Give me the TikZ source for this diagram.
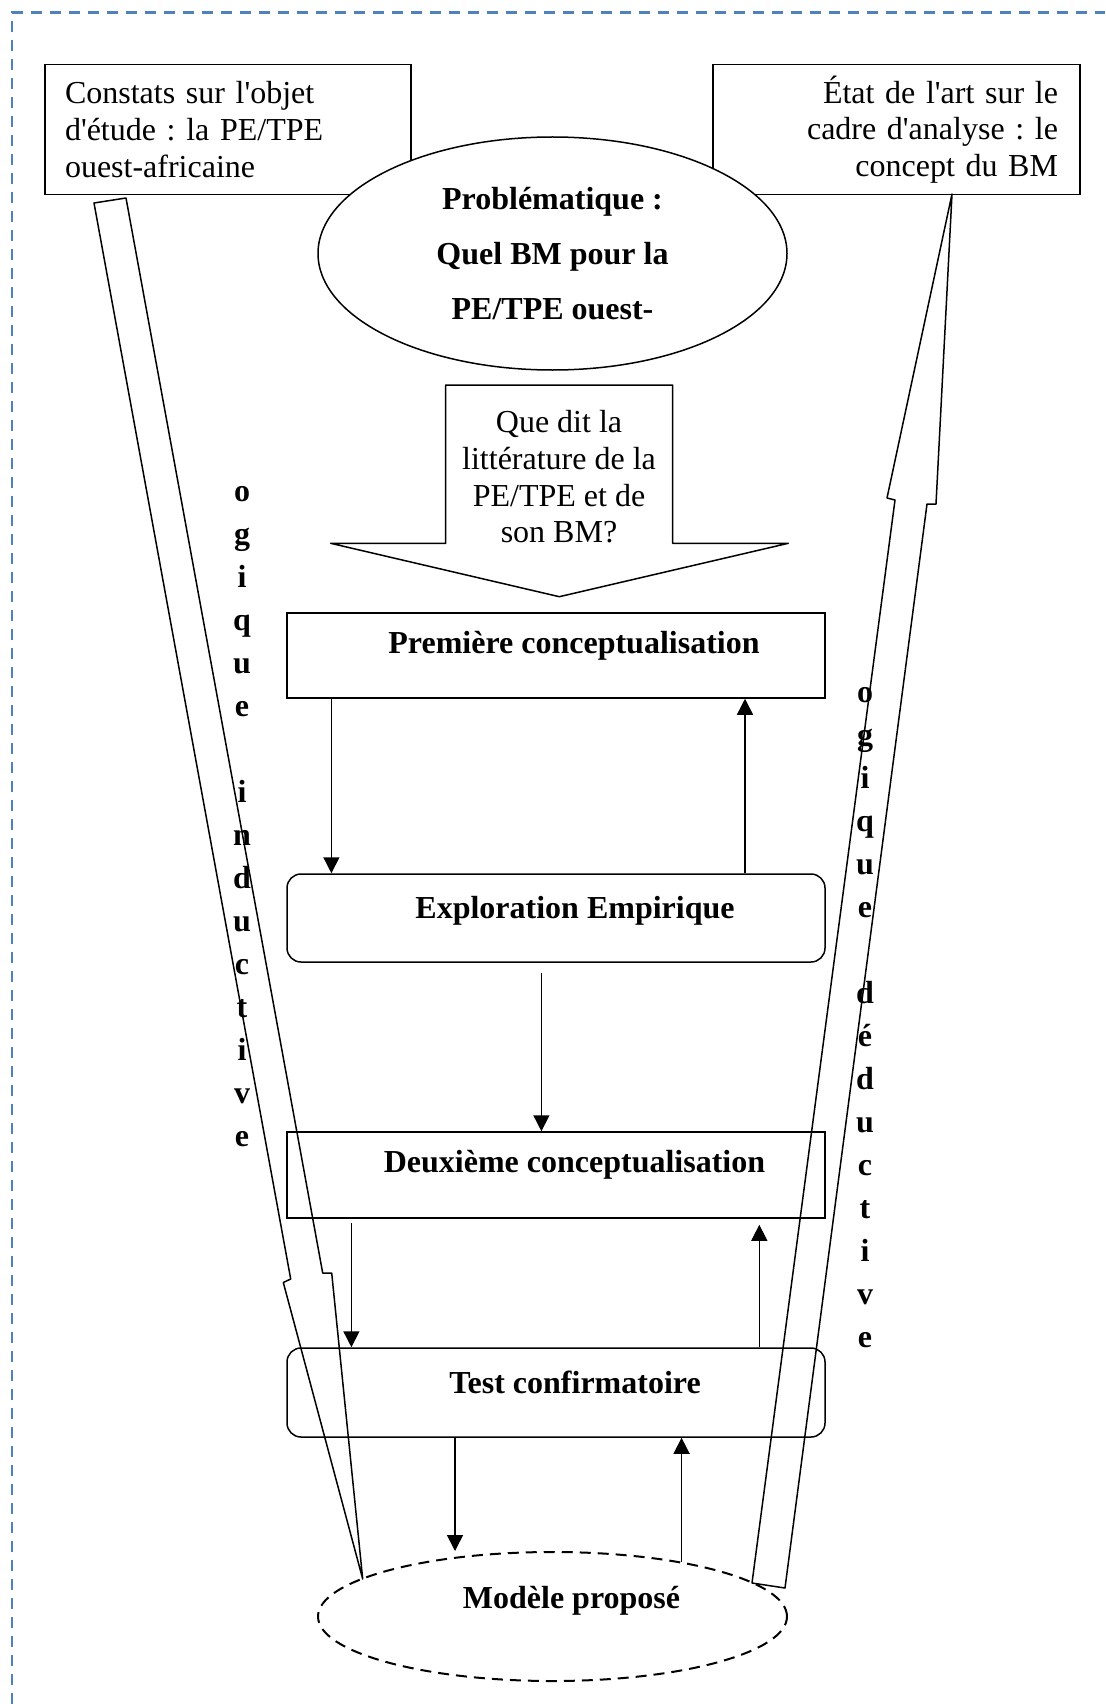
\documentclass[tikz,border=0pt]{standalone}
\usepackage{fontspec}
\setmainfont{Liberation Serif}[Ligatures=TeXOff]
\usepackage{tikz}
\usetikzlibrary{positioning, arrows.meta, shapes.geometric}
\definecolor{cadreblue}{HTML}{4F81BD}
\frenchspacing

\begin{document}
\begin{tikzpicture}[x=1pt, y=-1pt,
    txt/.style={font=\fontsize{32}{36.6}\selectfont},
    sidebox/.style={txt, draw, line width=1.5pt, minimum height=130pt, inner ysep=4pt},
    stage/.style={draw, line width=1.5pt, minimum width=538pt, inner xsep=0pt, inner ysep=0pt,
                  font=\bfseries\fontsize{32}{36.6}\selectfont},
    flow/.style={-{Triangle[length=16pt,width=16pt]}, line width=1.5pt},
    fleche/.style={line width=1.5pt, line join=round},
    lettres/.style={align=center, inner sep=0pt, font=\bfseries\fontsize{32}{43}\selectfont}]
  \useasboundingbox (0,0) rectangle (1105,1704);
  \draw[cadreblue, line width=2.5pt, dash pattern=on 11pt off 8pt] (12,1704) -- (12,12.5) -- (1105,12.5);

  \node[sidebox, text width=326pt, inner xsep=20pt, align=left] (constats) at (228,129.5)
    {Constats sur l'objet\\d'étude : la PE/TPE\\ouest-africaine};
  \node[sidebox, text width=323pt, inner xsep=22pt, align=right] (etat) at (896.5,129.5)
    {État de l'art sur le\\cadre d'analyse : le\\concept du BM};
  \node[ellipse, draw, fill=white, line width=1.5pt, minimum width=469pt, minimum height=233pt,
        inner sep=0pt, align=center, font=\bfseries\fontsize{32}{55}\selectfont] (probleme) at (552.5,253.5)
    {Problématique :\\Quel BM pour la\\PE/TPE ouest-};

  \draw[fleche] (445.7,385) -- (672.7,385) -- (672.7,543.3) -- (788.3,543.3) -- (559.3,596.7)
    -- (330.7,543.3) -- (445.7,543.3) -- cycle;
  \node[txt, align=center, inner sep=0pt] (question) at (559,477)
    {Que dit la\\littérature de la\\PE/TPE et de\\son BM?};

  \node[stage, text height=40pt, text depth=45pt] (prem) at (556,655.5)
    {\hspace*{36pt}Première conceptualisation};
  \node[stage, rounded corners=14pt, text height=44pt, text depth=44pt] (expl) at (556,918)
    {\hspace*{38pt}Exploration Empirique};
  \node[stage, text height=40.7pt, text depth=45.3pt] (deux) at (556,1175)
    {\hspace*{37pt}Deuxième conceptualisation};
  \node[stage, rounded corners=14pt, text height=45.8pt, text depth=43.2pt] (test) at (556,1392.5)
    {\hspace*{38pt}Test confirmatoire};
  \node[ellipse, draw, line width=2pt, dash pattern=on 11pt off 7pt, minimum width=469pt,
        minimum height=129pt, inner sep=0pt, text height=15pt, text depth=32pt,
        font=\bfseries\fontsize{32}{36.6}\selectfont] (mod) at (552.5,1616.5)
    {\hspace*{38pt}Modèle proposé};

  \draw[flow] ([xshift=-224.6pt]prem.south) -- ([xshift=-224.6pt]expl.north);
  \draw[flow] ([xshift=189pt]expl.north) -- ([xshift=189pt]prem.south);
  \draw[flow] ([xshift=-14.6pt,yshift=-10pt]expl.south) -- ([xshift=-14.6pt]deux.north);
  \draw[flow] ([xshift=-204.6pt,yshift=-4pt]deux.south) -- ([xshift=-204.6pt]test.north);
  \draw[flow] ([xshift=203.3pt]test.north) -- ([xshift=203.3pt,yshift=-6pt]deux.south);
  \draw[flow] ([xshift=-101pt]test.south) -- ([xshift=-97.5pt]mod.north);
  \draw[flow] (mod.23) -- (mod.23 |- test.south);

  \draw[fleche] (94,203) -- (126,198) -- (322.7,1273) -- (331.7,1273) -- (362.7,1579)
    -- (283.3,1282.5) -- (290.7,1279) -- cycle;
  \draw[fleche] (952,194) -- (936,504) -- (927,504) -- (785,1588) -- (752,1583)
    -- (895,500) -- (887,498) -- cycle;

  \node[lettres] (induc) at (242,817) {o\\g\\i\\q\\u\\e\\[43pt]i\\n\\d\\u\\c\\t\\i\\v\\e};
  \node[lettres] (deduc) at (865,1018) {o\\g\\i\\q\\u\\e\\[43pt]d\\é\\d\\u\\c\\t\\i\\v\\e};
\end{tikzpicture}
\end{document}
